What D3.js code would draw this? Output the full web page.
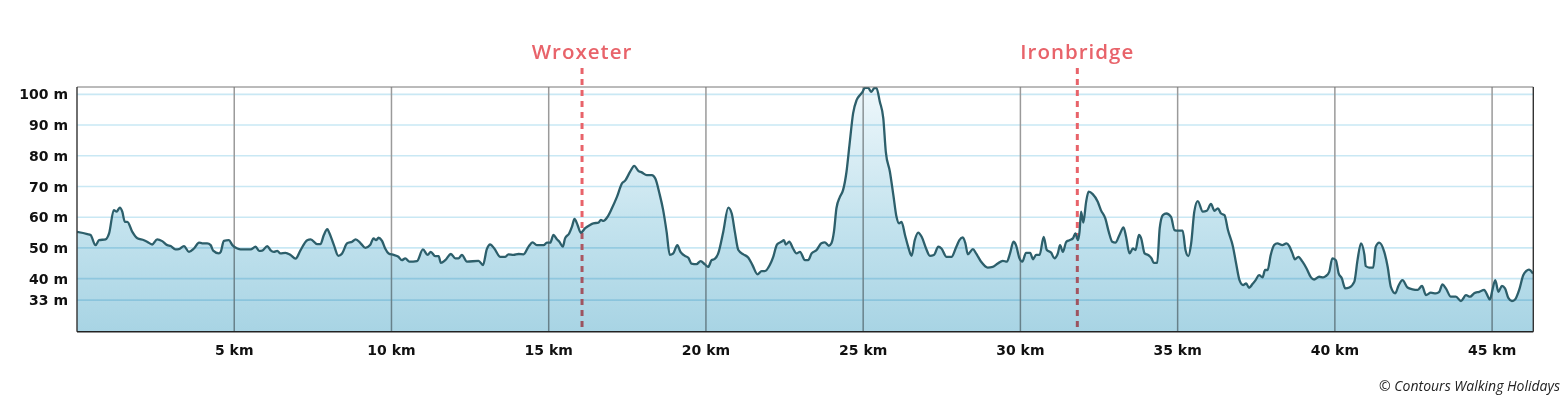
<!DOCTYPE html>
<html><head><meta charset="utf-8">
<script src="https://cdn.jsdelivr.net/npm/d3@7"></script>
<style>
html,body{margin:0;padding:0;background:#fff;}
svg{display:block;}
</style></head>
<body>
<svg id="chart" width="1564" height="403"></svg>
<script>
const distanceKm = [0.00,0.33,0.43,0.59,0.70,0.91,1.02,1.17,1.26,1.36,1.44,1.52,1.60,1.76,1.92,2.13,2.23,2.39,2.55,2.71,2.87,2.98,3.13,3.24,3.40,3.56,3.72,3.88,3.98,4.14,4.25,4.33,4.51,4.57,4.67,4.83,4.94,5.10,5.20,5.52,5.68,5.79,5.89,6.05,6.15,6.26,6.37,6.47,6.63,6.79,6.95,7.11,7.32,7.43,7.64,7.74,7.85,7.96,8.01,8.17,8.31,8.43,8.59,8.75,8.86,9.02,9.17,9.32,9.43,9.51,9.59,9.70,9.80,9.91,10.07,10.22,10.33,10.44,10.57,10.81,11.00,11.15,11.25,11.39,11.50,11.57,11.71,11.89,12.03,12.13,12.24,12.40,12.77,12.91,13.03,13.14,13.27,13.46,13.62,13.72,13.88,14.04,14.20,14.36,14.49,14.62,14.84,14.94,15.05,15.15,15.26,15.34,15.45,15.52,15.65,15.74,15.82,15.92,16.02,16.16,16.30,16.42,16.58,16.66,16.74,16.87,17.01,17.17,17.33,17.43,17.59,17.72,17.85,17.96,18.12,18.28,18.39,18.52,18.64,18.75,18.85,18.96,19.09,19.19,19.33,19.44,19.54,19.70,19.83,19.97,20.07,20.18,20.28,20.39,20.55,20.71,20.82,20.92,21.03,21.19,21.35,21.48,21.64,21.77,21.87,22.03,22.14,22.26,22.40,22.48,22.54,22.65,22.77,22.88,22.99,23.15,23.25,23.36,23.52,23.67,23.78,23.91,23.99,24.07,24.15,24.26,24.36,24.47,24.57,24.68,24.79,24.90,24.98,25.05,25.16,25.26,25.35,25.42,25.53,25.64,25.72,25.85,25.96,26.06,26.14,26.22,26.33,26.43,26.54,26.64,26.75,26.86,27.00,27.12,27.25,27.39,27.49,27.65,27.81,27.96,28.06,28.17,28.25,28.33,28.49,28.59,28.75,28.96,29.12,29.28,29.44,29.57,29.67,29.78,29.86,29.97,30.06,30.18,30.31,30.40,30.50,30.61,30.74,30.84,30.98,31.08,31.19,31.26,31.35,31.46,31.56,31.67,31.75,31.83,31.88,31.93,32.00,32.09,32.17,32.30,32.46,32.56,32.70,32.81,32.92,33.02,33.15,33.28,33.36,33.47,33.58,33.66,33.77,33.84,33.95,34.06,34.17,34.24,34.35,34.43,34.53,34.64,34.79,34.90,35.00,35.16,35.25,35.34,35.43,35.53,35.64,35.80,35.93,36.06,36.17,36.28,36.38,36.49,36.60,36.76,36.86,36.97,37.08,37.18,37.27,37.38,37.48,37.59,37.70,37.78,37.86,37.96,38.07,38.17,38.33,38.46,38.55,38.65,38.73,38.84,38.97,39.10,39.24,39.34,39.50,39.63,39.71,39.82,39.92,40.03,40.12,40.22,40.33,40.46,40.62,40.72,40.83,40.94,40.98,41.09,41.22,41.30,41.41,41.57,41.68,41.78,41.92,42.02,42.15,42.31,42.47,42.63,42.77,42.90,43.05,43.21,43.32,43.42,43.53,43.69,43.85,44.01,44.17,44.30,44.43,44.59,44.75,44.82,44.93,45.01,45.10,45.20,45.31,45.41,45.52,45.63,45.73,45.86,45.99,46.09,46.17,46.30];
const elevationM = [55.2,54.5,54.2,50.9,52.5,52.8,54.7,62.3,61.8,63.1,61.8,58.5,58.5,55.2,53.1,52.5,52.0,51.1,52.8,52.2,50.9,50.6,49.5,49.6,50.6,48.7,49.8,51.7,51.5,51.5,50.9,49.1,48.2,48.7,52.3,52.5,50.9,49.8,49.5,49.5,50.4,49.0,49.1,50.6,49.3,48.7,49.0,48.2,48.4,47.7,46.5,49.3,52.5,52.8,51.2,51.2,54.2,56.1,55.2,50.9,47.4,48.2,51.5,52.0,52.8,51.5,50.0,50.9,53.1,52.5,53.3,52.3,49.8,48.2,47.7,47.1,46.0,46.6,45.5,45.7,49.5,47.7,48.7,47.3,47.3,45.1,46.0,48.0,46.6,46.6,47.7,45.5,45.8,44.4,49.5,51.1,49.8,47.1,47.1,47.9,47.7,48.0,47.9,50.4,51.8,50.9,50.9,51.7,51.7,54.2,52.8,52.0,50.4,53.1,54.7,56.9,59.4,57.4,54.9,56.4,57.4,58.0,58.2,59.1,58.8,60.1,62.9,66.6,71.0,71.9,74.8,76.7,75.1,74.6,73.7,73.7,72.6,67.8,62.3,55.2,47.7,48.2,50.9,48.7,47.4,46.8,44.9,44.7,45.7,44.6,43.8,46.0,46.4,48.2,55.2,63.1,61.2,55.2,49.3,47.9,46.8,44.4,41.4,42.4,42.4,44.4,47.1,51.1,52.0,52.5,51.1,52.0,49.8,48.2,48.7,46.0,46.0,48.2,49.3,51.5,51.8,50.7,51.5,55.2,62.9,66.6,68.8,74.8,84.0,93.8,98.1,99.8,100.8,102.1,102.1,100.8,102.0,102.1,97.6,92.2,81.3,74.8,67.2,60.1,58.0,58.5,54.2,50.4,47.4,52.5,55.0,53.6,49.8,47.4,47.7,50.4,49.8,47.1,47.1,50.3,52.5,53.4,51.5,47.9,49.6,48.2,45.5,43.6,43.8,44.9,45.8,45.5,48.2,52.0,50.9,46.6,45.5,48.4,48.4,46.3,47.7,47.7,53.6,49.3,48.4,46.6,48.2,50.9,48.7,52.0,52.5,53.1,54.7,52.5,55.2,61.8,58.2,65.0,68.3,67.5,65.0,62.3,59.6,55.2,52.0,51.7,54.2,56.7,53.6,48.2,49.8,49.3,54.2,53.1,48.2,47.7,46.6,45.1,45.1,56.4,60.7,61.2,60.1,55.8,55.6,55.6,49.3,47.3,51.5,61.8,65.2,61.8,62.1,64.3,62.1,62.9,61.2,60.7,55.8,50.4,44.9,39.4,37.9,38.4,37.0,38.2,39.5,41.1,40.4,42.8,42.8,47.7,50.9,51.5,50.9,51.5,50.6,48.2,46.3,47.1,45.5,43.3,40.4,39.7,40.6,40.4,40.8,42.2,46.6,46.0,41.7,40.1,36.8,37.1,39.0,46.0,51.5,47.7,44.1,43.6,43.6,50.4,51.7,48.7,43.8,37.3,35.2,37.6,39.5,37.1,36.5,36.3,37.6,34.6,35.4,35.2,35.7,38.1,36.8,34.1,34.1,32.7,34.6,34.1,35.2,35.7,36.3,35.2,33.2,36.3,39.5,35.7,37.6,36.8,33.6,32.7,33.2,36.3,41.1,42.5,42.9,41.6];
const yTickValues = [33, 40, 50, 60, 70, 80, 90, 100];
const yTickLabels = ["33 m", "40 m", "50 m", "60 m", "70 m", "80 m", "90 m", "100 m"];
const xTickValues = [5, 10, 15, 20, 25, 30, 35, 40, 45];
const xTickLabels = ["5 km", "10 km", "15 km", "20 km", "25 km", "30 km", "35 km", "40 km", "45 km"];
const markerNames = ["Wroxeter", "Ironbridge"];
const markerKm = [16.06, 31.81];
const totalKm = 46.31;
const yDomain = [22.7, 102.4];
const credit = "\u00A9 Contours Walking Holidays";

(function () {
const svg = d3.select("#chart");
const pL = 77, pR = 1533.3, pT = 87, pB = 331.7;

const x = d3.scaleLinear().domain([0, totalKm]).range([pL, pR]);
const y = d3.scaleLinear().domain(yDomain).range([pB, pT]);

const points = distanceKm.map((d, i) => ({ d, e: elevationM[i] }));

const defs = svg.append("defs");
const grad = defs.append("linearGradient").attr("id", "fillGrad")
  .attr("gradientUnits", "userSpaceOnUse")
  .attr("x1", 0).attr("x2", 0).attr("y1", pT).attr("y2", pB);
grad.append("stop").attr("offset", "0%").attr("stop-color", "#eef7fb");
grad.append("stop").attr("offset", "55%").attr("stop-color", "#c4e3ee");
grad.append("stop").attr("offset", "100%").attr("stop-color", "#a8d4e4");
defs.append("clipPath").attr("id", "plotClip").append("rect")
  .attr("x", pL).attr("y", pT).attr("width", pR - pL).attr("height", pB - pT);

// horizontal gridlines
svg.append("g").selectAll("line").data(yTickValues).join("line")
  .attr("x1", pL).attr("x2", pR)
  .attr("y1", d => y(d)).attr("y2", d => y(d))
  .attr("stroke", "#c9e8f4").attr("stroke-width", 1.6);

// vertical gridlines
svg.append("g").selectAll("line").data(xTickValues).join("line")
  .attr("x1", d => x(d)).attr("x2", d => x(d))
  .attr("y1", pT).attr("y2", pB)
  .attr("stroke", "#9a9a9a").attr("stroke-width", 1.5);

// marker lines
svg.append("g").selectAll("line").data(markerKm).join("line")
  .attr("x1", d => x(d)).attr("x2", d => x(d))
  .attr("y1", 68).attr("y2", pB)
  .attr("stroke", "#e8636a").attr("stroke-width", 3)
  .attr("stroke-dasharray", "6,5");

// area with multiply blend
const area = d3.area().x(p => x(p.d)).y0(pB).y1(p => y(p.e)).curve(d3.curveMonotoneX);
svg.append("path").datum(points).attr("d", area)
  .attr("fill", "url(#fillGrad)")
  .attr("clip-path", "url(#plotClip)")
  .style("mix-blend-mode", "multiply");

const line = d3.line().x(p => x(p.d)).y(p => y(p.e)).curve(d3.curveMonotoneX);
svg.append("path").datum(points).attr("d", line)
  .attr("fill", "none").attr("stroke", "#2d5f6b").attr("stroke-width", 2.3)
  .attr("stroke-linejoin", "round")
  .attr("clip-path", "url(#plotClip)");

// frame
svg.append("line").attr("x1", pL).attr("x2", pR).attr("y1", pT).attr("y2", pT)
  .attr("stroke", "#777").attr("stroke-width", 1);
svg.append("line").attr("x1", pL).attr("x2", pL).attr("y1", pT).attr("y2", pB)
  .attr("stroke", "#333").attr("stroke-width", 1.4);
svg.append("line").attr("x1", pR).attr("x2", pR).attr("y1", pT).attr("y2", pB)
  .attr("stroke", "#333").attr("stroke-width", 1.4);
svg.append("line").attr("x1", pL).attr("x2", pR).attr("y1", pB).attr("y2", pB)
  .attr("stroke", "#222").attr("stroke-width", 1.6);

const axisFont = "'DejaVu Sans', 'Open Sans', sans-serif";
const font = "'Open Sans', 'DejaVu Sans', sans-serif";
// y axis labels
svg.append("g").selectAll("text").data(yTickValues).join("text")
  .attr("x", 68).attr("y", d => y(d)).attr("dy", "0.36em")
  .attr("text-anchor", "end")
  .style("font-family", axisFont).style("font-weight", 700).style("font-size", "14px")
  .attr("fill", "#111")
  .text((d, i) => yTickLabels[i]);

// x axis labels
svg.append("g").selectAll("text").data(xTickValues).join("text")
  .attr("x", d => x(d)).attr("y", 355)
  .attr("text-anchor", "middle")
  .style("font-family", axisFont).style("font-weight", 700).style("font-size", "14px")
  .attr("fill", "#111")
  .text((d, i) => xTickLabels[i]);

// marker labels
svg.append("g").selectAll("text").data(markerKm).join("text")
  .attr("x", d => x(d)).attr("y", 58.5)
  .attr("text-anchor", "middle")
  .style("font-family", font).style("font-weight", 600).style("font-size", "20.5px")
  .style("letter-spacing", "1px")
  .attr("fill", "#e8636a")
  .text((d, i) => markerNames[i]);

// credit
svg.append("text").attr("x", 1560).attr("y", 391).attr("text-anchor", "end")
  .style("font-family", font).style("font-style", "italic").style("font-size", "14px")
  .attr("fill", "#222")
  .text(credit);
})();
</script>
</body></html>
